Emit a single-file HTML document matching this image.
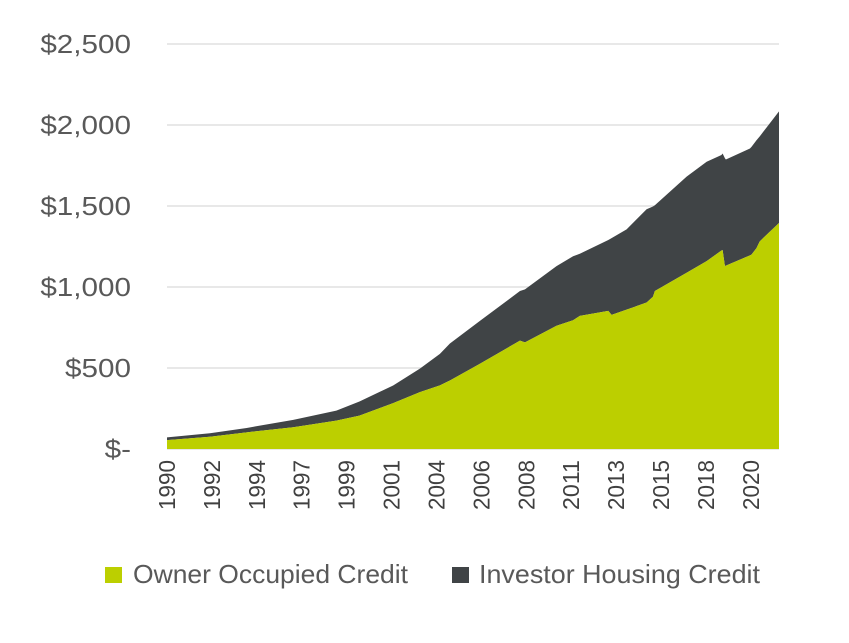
<!DOCTYPE html>
<html><head><meta charset="utf-8"><style>
html,body{margin:0;padding:0;background:#fff;width:849px;height:643px;overflow:hidden}
svg{display:block;font-family:"Liberation Sans",Arial,sans-serif}
</style></head><body>
<svg id="chart" width="849" height="643" viewBox="0 0 849 643">
<g id="grid"></g>
<g id="areas"></g>
<g id="yaxis"></g>
<g id="xaxis"></g>
<g>
<rect x="105" y="567" width="17" height="16" fill="#bccf00"/>
<text x="133" y="583" font-size="26" fill="#595959" textLength="275" lengthAdjust="spacingAndGlyphs">Owner Occupied Credit</text>
<rect x="452" y="567" width="17" height="16" fill="#404446"/>
<text x="479" y="583" font-size="26" fill="#595959" textLength="281" lengthAdjust="spacingAndGlyphs">Investor Housing Credit</text>
</g>
</svg>
<script>
const years = [1990,1992.23,1994.14,1996.56,1998.8,2000.0,2001.75,2003.14,2004.18,2004.7,2006.26,2008.34,2008.6,2010.24,2011.1,2011.45,2012.93,2013.1,2013.88,2014.92,2015.25,2015.35,2017.0,2018.04,2018.81,2018.87,2018.99,2019.04,2020.29,2020.37,2020.63,2020.8,2021.8];
const ownerCredit = [55,76,103,134,175,206,283,351,393,423,526,669,658,761,795,822,853,828,860,904,940,975,1088,1160,1225,1228,1129,1132,1195,1200,1240,1282,1395];
const totalCredit = [72,97,130,180,237,293,392,496,587,651,791,975,985,1129,1190,1205,1290,1302,1356,1480,1497,1505,1681,1773,1815,1824,1795,1787,1855,1865,1906,1930,2084];
const yTicks = [0,500,1000,1500,2000,2500];
const yTickLabels = ["$-","$500","$1,000","$1,500","$2,000","$2,500"];
const xTickLabels = ["1990","1992","1994","1997","1999","2001","2004","2006","2008","2011","2013","2015","2018","2020"];
const xTickYears = [1990,1992.333,1994.667,1997,1999.333,2001.667,2004,2006.333,2008.667,2011,2013.333,2015.667,2018,2020.333];

const X0=167,X1=779,Y0=449,Y1=44;
const xStart=1990,xEnd=2021.8,yMax=2500;
const xs=v=>X0+(v-xStart)/(xEnd-xStart)*(X1-X0);
const ys=v=>Y0-v/yMax*(Y0-Y1);
const NS="http://www.w3.org/2000/svg";
function mk(tag,parent){const e=document.createElementNS(NS,tag);parent.appendChild(e);return e;}
const grid=document.getElementById('grid'),areas=document.getElementById('areas'),ya=document.getElementById('yaxis'),xa=document.getElementById('xaxis');
yTicks.forEach((t,i)=>{
  const l=mk('line',grid);
  
  
  l.setAttribute('x1',X0);l.setAttribute('x2',X1);l.setAttribute('y1',ys(t));l.setAttribute('y2',ys(t));
  l.setAttribute('stroke','#d9d9d9');l.setAttribute('stroke-width','1.3');
  const tx=mk('text',ya);
  
  
  tx.setAttribute('font-size','26');tx.setAttribute('fill','#595959');tx.textContent=yTickLabels[i];
  const w=tx.getComputedTextLength()*1.14;
  tx.setAttribute('x',131-w);tx.setAttribute('y',ys(t)+9);
  tx.setAttribute('textLength',w);tx.setAttribute('lengthAdjust','spacingAndGlyphs');
});
function areaPath(top,bottom){
  let d='M'+xs(years[0])+','+ys(top[0]);
  for(let i=1;i<years.length;i++)d+='L'+xs(years[i])+','+ys(top[i]);
  for(let i=years.length-1;i>=0;i--)d+='L'+xs(years[i])+','+ys(bottom?bottom[i]:0);
  return d+'Z';
}
const inv=mk('path',areas);


inv.setAttribute('d',areaPath(totalCredit,ownerCredit));inv.setAttribute('fill','#404446');
const own=mk('path',areas);


own.setAttribute('d',areaPath(ownerCredit,null));own.setAttribute('fill','#bccf00');
xTickLabels.forEach((lab,i)=>{
  const x=xs(xTickYears[i]);
  const tx=mk('text',xa);
  
  
  tx.setAttribute('transform','translate('+(x+8)+',460) rotate(-90)');
  tx.setAttribute('text-anchor','end');tx.setAttribute('font-size','23');tx.setAttribute('fill','#404040');
  tx.setAttribute('textLength','50');tx.setAttribute('lengthAdjust','spacingAndGlyphs');
  tx.textContent=lab;
});
</script>
</body></html>
